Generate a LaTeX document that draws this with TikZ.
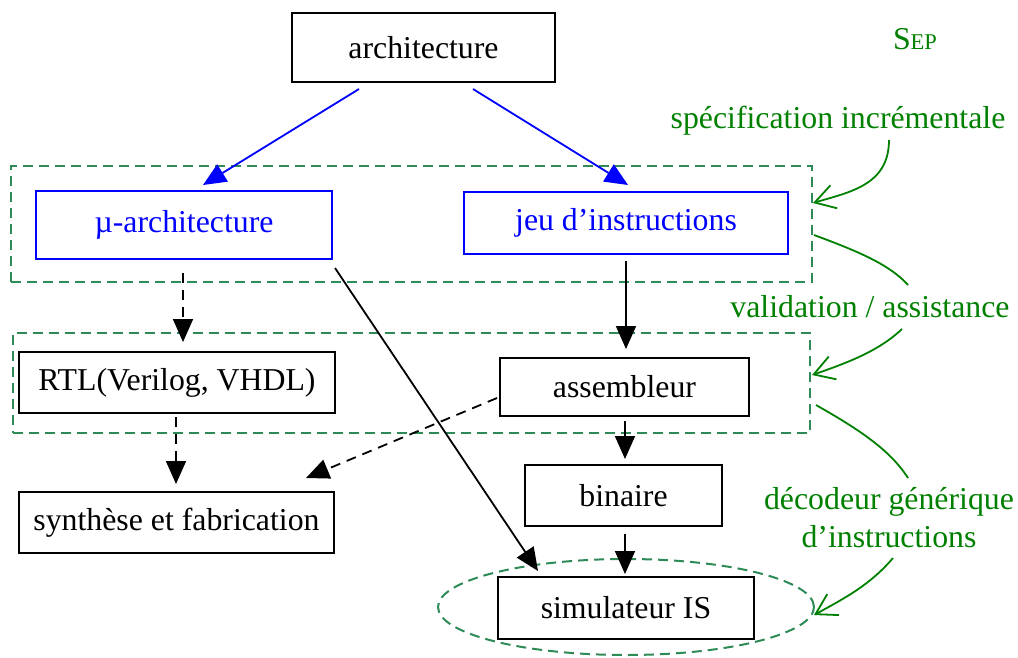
\documentclass[tikz,border=0pt]{standalone}
\usepackage{fontspec}
\setmainfont{Liberation Serif}
\usetikzlibrary{arrows.meta,shapes.geometric,calc}
\definecolor{grn}{RGB}{0,128,0}
\definecolor{grpc}{RGB}{46,139,87}
\begin{document}
\begin{tikzpicture}[x=1pt,y=-1pt,
  every node/.style={font=\fontsize{31.8}{38}\selectfont, inner sep=0pt},
  bbox/.style={draw=black, line width=2pt},
  bluebox/.style={draw=blue, text=blue, line width=2pt},
  grpbox/.style={draw=grpc, line width=2pt, dash pattern=on 10pt off 6pt},
  arr/.style={line width=1.8pt, -{Triangle[length=23pt,width=20pt]}},
  barr/.style={arr, blue},
  darr/.style={arr, dash pattern=on 10pt off 7pt},
  glab/.style={text=grn, anchor=base},
  gcurve/.style={grn, line width=1.8pt},
  garr/.style={gcurve, -{Straight Barb[length=20pt,width=24pt]}}
]
\useasboundingbox (0,0) rectangle (1018,657);

% group boxes
\node[grpbox, minimum width=801pt, minimum height=116pt] (g1) at (411.5,224) {};
\node[grpbox, minimum width=797pt, minimum height=100pt] (g2) at (411.5,383) {};
\node[grpbox, ellipse, minimum width=376pt, minimum height=96pt] (ell) at (626,607) {};

% main nodes
\node[bbox, minimum width=263pt, minimum height=69pt] (arch) at (423.5,47.5) {architecture};
\node[bluebox, minimum width=296pt, minimum height=68pt] (mu) at (184,225) {µ-architecture};
\node[bluebox, minimum width=324pt, minimum height=62pt] (jeu) at (626,223) {jeu d’instructions};
\node[bbox, fill=white, minimum width=316pt, minimum height=61pt] (rtl) at (177,382.5) {RTL(Verilog, VHDL)};
\node[bbox, fill=white, minimum width=249pt, minimum height=58pt] (asm) at (624.5,387) {assembleur};
\node[bbox, minimum width=315pt, minimum height=61pt] (syn) at (176.5,522.5) {synthèse et fabrication};
\node[bbox, minimum width=197pt, minimum height=61pt] (bin) at (623.5,495.5) {binaire};
\node[bbox, fill=white, minimum width=256pt, minimum height=62pt] (sim) at (626,608) {simulateur IS};

% green labels
\node[glab] (sep) at (915,49) {S\fontsize{22.5}{26}\selectfont EP};
\node[glab] (spec) at (838,128) {spécification incrémentale};
\node[glab] (val) at (870,317) {validation / assistance};
\node[glab] (dec1) at (889,509) {décodeur générique};
\node[glab] (dec2) at (889,547) {d’instructions};

% connectors
\draw[barr] ([shift={(-64.5,6)}]arch.south) -- ([shift={(19,-5)}]mu.north);
\draw[barr] ([shift={(49.5,6)}]arch.south) -- ([shift={(2,-6)}]jeu.north);
\draw[darr] ([shift={(-1,13)}]mu.south) -- ([shift={(6,-9)}]rtl.north);
\draw[arr] ([shift={(0,6)}]jeu.south) -- ([shift={(1.5,-8)}]asm.north);
\draw[darr] ([shift={(-1,3)}]rtl.south) -- ([shift={(-0.5,-7)}]syn.north);
\draw[darr] ([shift={(-2,11)}]asm.west) -- ([shift={(-29,-13)}]syn.north east);
\draw[arr] ([shift={(2,8)}]mu.south east) -- ([shift={(41,-5)}]sim.north west);
\draw[arr] ([shift={(0.5,4)}]asm.south) -- ([shift={(1.5,-5)}]bin.north);
\draw[arr] ([shift={(1.5,7)}]bin.south) -- ([shift={(-1,-2)}]sim.north);

% green curves
\draw[garr] ([shift={(51,12)}]spec.base) .. controls (889,185) and (850,192) .. ([shift={(0,-21)}]g1.east);
\draw[gcurve] ([shift={(1,11)}]g1.east) .. controls (860,252) and (890,265) .. ([shift={(38,-32)}]val.base);
\draw[garr] ([shift={(32,12)}]val.base) .. controls (880,350) and (850,362) .. ([shift={(1,-8)}]g2.east);
\draw[gcurve] ([shift={(5,22)}]g2.east) .. controls (860,430) and (890,450) .. ([shift={(19,-31)}]dec1.base);
\draw[garr] ([shift={(4,11)}]dec2.base) .. controls (870,585) and (845,598) .. ([shift={(-1,8)}]ell.east);
\end{tikzpicture}
\end{document}
